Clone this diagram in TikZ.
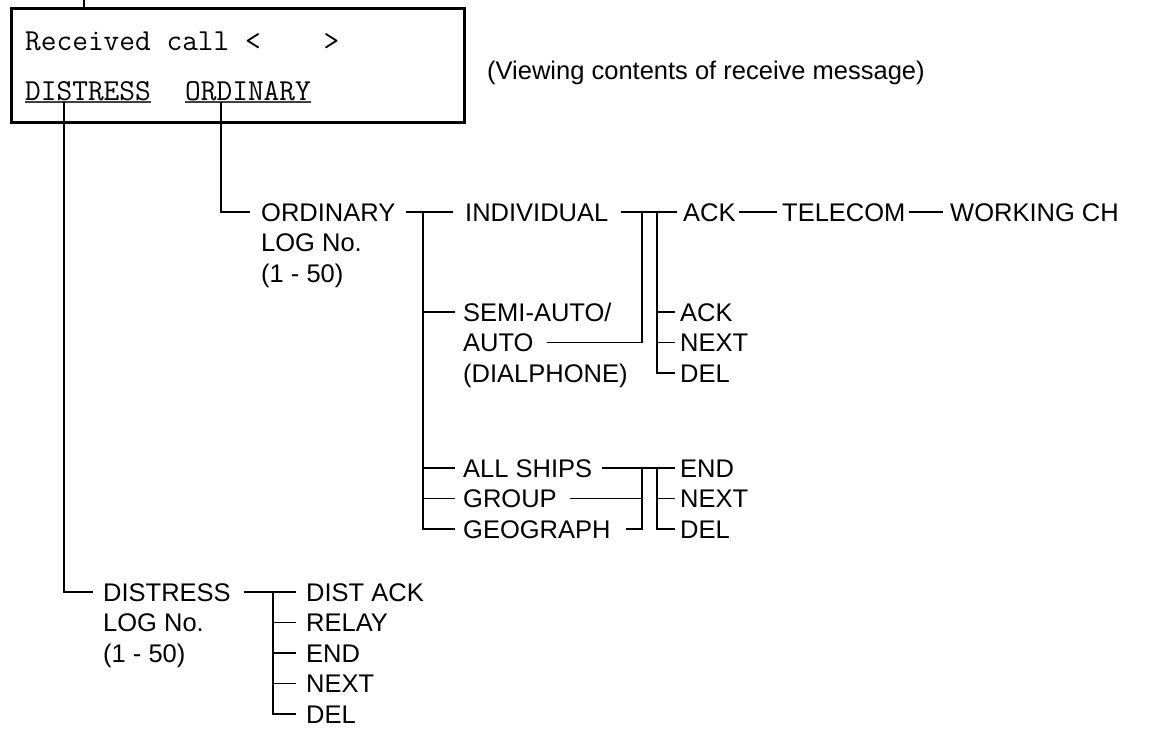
\documentclass[tikz,border=0pt]{standalone}
\usepackage{fontspec}
\setmainfont{Liberation Sans}
\begin{document}
\begin{tikzpicture}[x=1pt,y=-1pt,
  lbl/.style={anchor=west, inner sep=0pt, text height=18.3pt, text depth=0pt,
              font=\fontsize{25.5}{30.5}\selectfont},
  mono/.style={anchor=base west, inner sep=0pt, font=\fontsize{30.5}{36}\selectfont\ttfamily},
  conn/.style={line width=1.2pt, line cap=butt},
  uline/.style={line width=1.4pt, black!75},
  screenbox/.style={draw, line width=3pt, anchor=north west, inner sep=0pt,
                    minimum width=453pt, minimum height=114pt},
]
\useasboundingbox (0,0) rectangle (1152,729);

% screen box
\node[screenbox] (screen) at (10,7) {};
\coordinate (tk) at (84,0);
\draw[conn] (tk) -- (tk |- screen.north);
\node[mono] (rc) at (25,50) {Received call <\phantom{XXXX}>};
\node[mono] (D) at (25,100) {DISTRESS};
\node[mono] (O) at (185,100) {ORDINARY};
\draw[uline] ([yshift=-2pt]D.base west) -- ([yshift=-2pt]D.base east);
\draw[uline] ([yshift=-2pt]O.base west) -- ([yshift=-2pt]O.base east);
\node[lbl] (view) at (487,70) {(Viewing contents of receive message)};

% ordinary tree
\node[lbl] (ordlog) at (261,212) {\begin{tabular}[t]{@{}l@{}}ORDINARY\\LOG No.\\(1 - 50)\end{tabular}};
\node[lbl] (indiv) at (465,212) {INDIVIDUAL};
\node[lbl] (ack1) at (683,212) {ACK};
\node[lbl] (telecom) at (782,212) {TELECOM};
\node[lbl] (working) at (950,212) {WORKING CH};
\node[lbl] (semi1) at (463,312) {SEMI-AUTO/};
\node[lbl] (semi2) at (463,342.5) {AUTO};
\node[lbl] (semi3) at (463,373) {(DIALPHONE)};
\node[lbl] (ack2) at (680,312) {ACK};
\node[lbl] (next2) at (680,342.5) {NEXT};
\node[lbl] (del2) at (680,373) {DEL};
\node[lbl] (allships) at (463,468) {ALL SHIPS};
\node[lbl] (group) at (463,498.5) {GROUP};
\node[lbl] (geo) at (463,529) {GEOGRAPH};
\node[lbl] (end3) at (680,468) {END};
\node[lbl] (next3) at (680,498.5) {NEXT};
\node[lbl] (del3) at (680,529) {DEL};

% distress tree
\node[lbl] (distlog) at (103,592) {\begin{tabular}[t]{@{}l@{}}DISTRESS\\LOG No.\\(1 - 50)\end{tabular}};
\node[lbl] (distack) at (306,592) {DIST ACK};
\node[lbl] (relay) at (306,622.5) {RELAY};
\node[lbl] (end4) at (306,653) {END};
\node[lbl] (next4) at (306,683.5) {NEXT};
\node[lbl] (del4) at (306,714) {DEL};

% connectors from screen
\draw[conn] ([xshift=39pt,yshift=-2pt]D.base west) |- ([xshift=-10pt]distlog.west);
\draw[conn] ([xshift=36pt,yshift=-2pt]O.base west) |- ([xshift=-11pt]ordlog.west);

% ordinary branch
\coordinate (ob) at ([xshift=-42pt]indiv.west);
\draw[conn] ([xshift=10pt]ordlog.east) -- ([xshift=-12pt]indiv.west);
\draw[conn] (ob) |- ([xshift=-8pt]geo.west);
\draw[conn] (ob |- semi1.west) -- ([xshift=-8pt]semi1.west);
\draw[conn] (ob |- allships.west) -- ([xshift=-8pt]allships.west);
\draw[conn] (ob |- group.west) -- ([xshift=-8pt]group.west);

% individual sub-branch
\coordinate (ib1) at ([xshift=-41pt]ack1.west);
\coordinate (ib2) at ([xshift=-26pt]ack1.west);
\draw[conn] ([xshift=12pt]indiv.east) -- ([xshift=-6pt]ack1.west);
\draw[conn] (ib1) |- ([xshift=13pt]semi2.east);
\draw[conn] (ib2) |- ([xshift=-5pt]del2.west);
\draw[conn] (ib2 |- ack2.west) -- ([xshift=-5pt]ack2.west);
\draw[conn] (ib2 |- next2.west) -- ([xshift=-5pt]next2.west);
\draw[conn] ([xshift=3pt]ack1.east) -- ([xshift=-5pt]telecom.west);
\draw[conn] ([xshift=3pt]telecom.east) -- ([xshift=-7pt]working.west);

% all ships sub-branch
\coordinate (ab1) at ([xshift=-38pt]end3.west);
\coordinate (ab2) at ([xshift=-23pt]end3.west);
\draw[conn] ([xshift=10pt]allships.east) -- ([xshift=-5pt]end3.west);
\draw[conn] ([xshift=13pt]group.east) -- (ab1 |- group.east);
\draw[conn] (ab1) |- ([xshift=15pt]geo.east);
\draw[conn] (ab2) |- ([xshift=-5pt]del3.west);
\draw[conn] (ab2 |- next3.west) -- ([xshift=-5pt]next3.west);

% distress branch
\coordinate (db) at ([xshift=-33pt]distack.west);
\draw[conn] ([xshift=13pt]distlog.east) -- ([xshift=-10pt]distack.west);
\draw[conn] (db) |- ([xshift=-10pt]del4.west);
\draw[conn] (db |- relay.west) -- ([xshift=-10pt]relay.west);
\draw[conn] (db |- end4.west) -- ([xshift=-10pt]end4.west);
\draw[conn] (db |- next4.west) -- ([xshift=-10pt]next4.west);
\end{tikzpicture}
\end{document}
